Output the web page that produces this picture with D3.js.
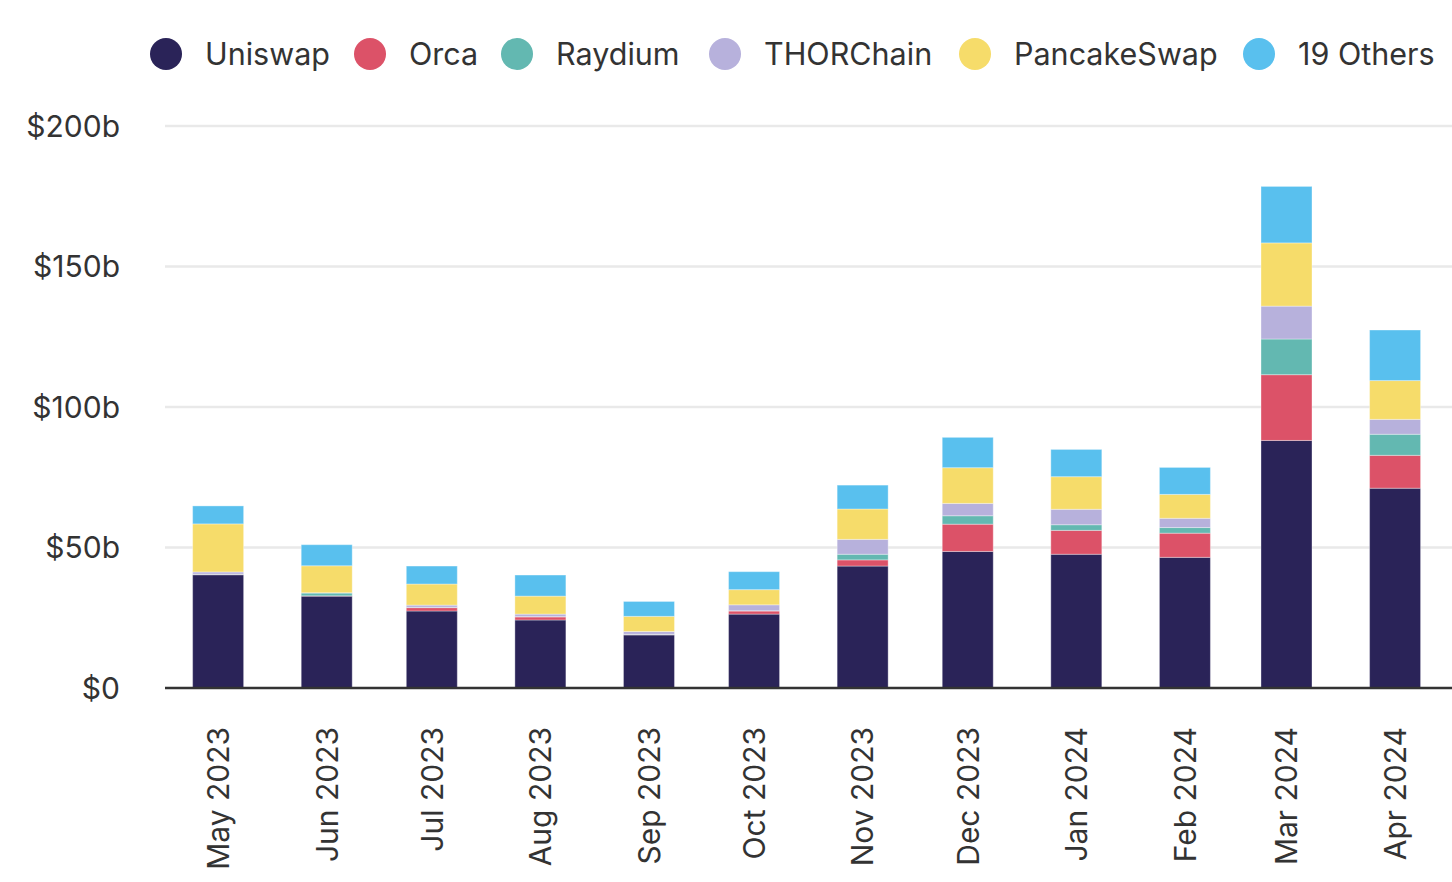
<!DOCTYPE html>
<html>
<head>
<meta charset="utf-8">
<script src="https://cdn.jsdelivr.net/npm/d3@7"></script>
<style>
  html, body { margin: 0; padding: 0; background: #fff; }
  svg { display: block; }
  text { font-family: Inter, "Noto Sans", sans-serif; fill: #333; }
</style>
</head>
<body>
<svg id="chart" width="1452" height="882"></svg>
<script>
const months = ["2023-05","2023-06","2023-07","2023-08","2023-09","2023-10","2023-11","2023-12","2024-01","2024-02","2024-03","2024-04"];
const monthLabels = ["May 2023","Jun 2023","Jul 2023","Aug 2023","Sep 2023","Oct 2023","Nov 2023","Dec 2023","Jan 2024","Feb 2024","Mar 2024","Apr 2024"];
const seriesNames = ["Uniswap","Orca","Raydium","THORChain","PancakeSwap","19 Others"];
const seriesColors = ["#2a2358","#dc5268","#63b8b1","#b7b1dc","#f6dc6a","#59c0ee"];
// values in $ billions
const uniswap     = [40.3, 32.7, 27.4, 24.2, 18.9, 26.3, 43.4, 48.6, 47.6, 46.5, 88.1, 71.1];
const orca        = [0.1, 0.1, 1.2, 1.1, 0.1, 1.1, 2.2, 9.7, 8.5, 8.6, 23.4, 11.7];
const raydium     = [0.1, 1.0, 0.1, 0.1, 0.1, 0.1, 2.0, 3.0, 2.0, 2.0, 12.7, 7.5];
const thorchain   = [0.8, 0.1, 0.8, 0.9, 1.0, 2.1, 5.3, 4.4, 5.5, 3.3, 11.7, 5.3];
const pancakeswap = [17.1, 9.6, 7.5, 6.4, 5.4, 5.4, 10.8, 12.7, 11.6, 8.5, 22.5, 13.8];
const others      = [6.4, 7.5, 6.4, 7.5, 5.3, 6.4, 8.5, 10.8, 9.7, 9.6, 20.1, 18.0];
const yTicks = [0, 50, 100, 150, 200];
const yTickLabels = ["$0","$50b","$100b","$150b","$200b"];

const seriesValues = [uniswap, orca, raydium, thorchain, pancakeswap, others];
const data = months.map((m, i) => {
  const row = { date: new Date(m + "-01T00:00:00Z"), label: monthLabels[i] };
  seriesNames.forEach((s, j) => row[s] = seriesValues[j][i]);
  return row;
});

const svg = d3.select("#chart");
const plotLeft = 165, plotRight = 1452, plotTop = 126, plotBottom = 688;

const x = d3.scaleUtc()
  .domain([new Date(Date.UTC(2023, 3, 15, 20)), new Date(Date.UTC(2024, 3, 17, 6))])
  .range([plotLeft, plotRight]);
const y = d3.scaleLinear().domain([0, 200]).range([plotBottom, plotTop]);
const color = d3.scaleOrdinal().domain(seriesNames).range(seriesColors);
const barW = 51;

// gridlines
svg.append("g").selectAll("line").data(yTicks.filter(d => d > 0)).join("line")
  .attr("x1", plotLeft).attr("x2", plotRight)
  .attr("y1", d => y(d)).attr("y2", d => y(d))
  .attr("stroke", "#e9e9e9").attr("stroke-width", 2.5);

// y labels
svg.append("g").selectAll("text").data(yTicks).join("text")
  .attr("x", 120).attr("y", d => y(d))
  .attr("dy", "0.36em")
  .attr("text-anchor", "end")
  .attr("font-size", 30)
  .text((d, i) => yTickLabels[i]);

// stacked bars
const stack = d3.stack().keys(seriesNames)(data);
svg.append("g").selectAll("g").data(stack).join("g")
  .attr("fill", d => color(d.key))
  .selectAll("rect").data(d => d).join("rect")
  .attr("x", d => x(d.data.date) - barW / 2)
  .attr("width", barW)
  .attr("y", d => y(d[1]))
  .attr("height", d => y(d[0]) - y(d[1]))
  .attr("stroke", "rgba(255,255,255,0.35)")
  .attr("stroke-width", 1);

// baseline
svg.append("line")
  .attr("x1", plotLeft).attr("x2", plotRight)
  .attr("y1", plotBottom).attr("y2", plotBottom)
  .attr("stroke", "#333").attr("stroke-width", 2.5);

// x labels rotated
svg.append("g").selectAll("text").data(data).join("text")
  .attr("transform", d => `translate(${x(d.date)},727) rotate(-90)`)
  .attr("text-anchor", "end")
  .attr("dy", "0.36em")
  .attr("font-size", 30)
  .text(d => d.label);

// legend
const legendX = [166, 370, 517, 725, 975, 1259];
const lg = svg.append("g").selectAll("g").data(seriesNames).join("g")
  .attr("transform", (d, i) => `translate(${legendX[i]},54)`);
lg.append("circle").attr("r", 16).attr("fill", d => color(d));
lg.append("text").attr("x", 39).attr("dy", "0.36em")
  .attr("font-size", 30.5).text(d => d);
</script>
</body>
</html>
